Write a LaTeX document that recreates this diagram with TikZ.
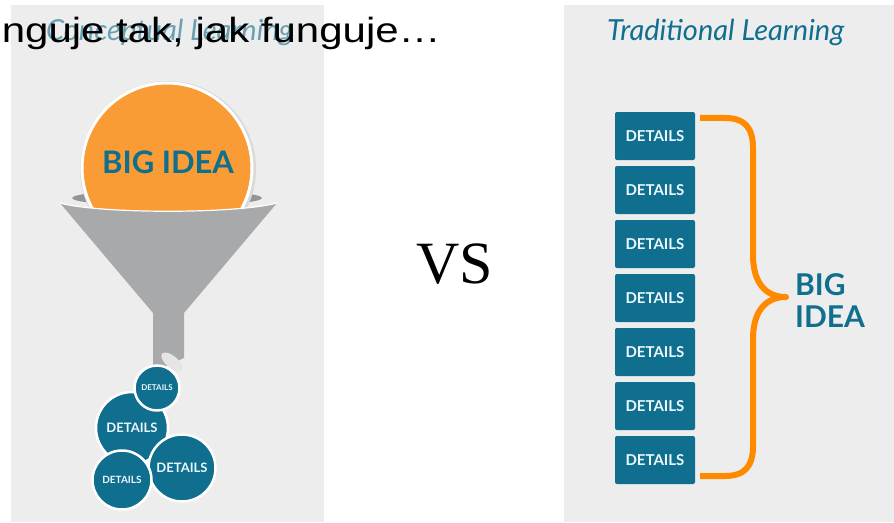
\documentclass[tikz,border=0pt]{standalone}
\usepackage{fontspec}
\setmainfont{Liberation Sans}
\newfontfamily\lato{Lato}
\newfontfamily\vsfont{Liberation Serif}
\definecolor{panel}{HTML}{EDEDED}
\definecolor{deepteal}{HTML}{106F8E}
\definecolor{bigorange}{HTML}{F99C35}
\definecolor{braceorange}{HTML}{FF8A00}
\definecolor{funnelgray}{HTML}{A8A9AB}
\definecolor{rimgray}{HTML}{939496}

\begin{document}
\begin{tikzpicture}[x=1pt, y=-1pt,
    title/.style ={anchor=base west, inner sep=0, text=deepteal, font=\lato\itshape\fontsize{29}{29}\selectfont},
    detail/.style ={rectangle, fill=deepteal, rounded corners=2pt, minimum width=80pt, minimum height=48pt, inner sep=0,
      text=white!92!cyan, font=\lato\bfseries\fontsize{15}{15}\selectfont},
    blob/.style ={circle, fill=deepteal, draw=white, line width=2.5pt, inner sep=0, text=white!92!cyan},
    brace/.style ={draw=braceorange, line width=6pt, line cap=butt, line join=round}]
   \useasboundingbox (0,0) rectangle (894,522);
   \fill[white] (0,0) rectangle (894,522);
   \fill[panel] (11,5) rectangle (324,522);
   \fill[panel] (564,5) rectangle (894,522);

   % titles
   \node[title, text=deepteal!60!panel] (CL) at (46,40) {Conceptual Learning};
   \node[title] (TL) at (607,40) {Traditional Learning};
   \node[anchor=base east, inner sep=0, font=\fontsize{35}{35}\selectfont] (NT) at (441,42)
     {\scalebox{1.2}[1]{nguje tak, jak funguje…}};

   % funnel
   \fill[rimgray] (167,198) ellipse (95pt and 8pt);
   \fill[gray!30] (168,169) circle (88pt);
   \fill[bigorange, draw=white, line width=3pt] (167,168) circle (85pt);
   \fill[funnelgray] (60,203) .. controls (100,214) and (236,214) .. (277,203)
     -- (184,313) -- (184,358) -- (153,372) -- (153,313) -- cycle;
   \draw[white, line width=1.2pt] (60,203) .. controls (100,214) and (236,214) .. (277,203);
   \fill[gray!20, rotate around={-40:(172,362)}] (172,362) ellipse (13pt and 6pt);
   \node[inner sep=0, text=deepteal, font=\lato\bfseries\fontsize{31}{31}\selectfont] (BIG) at (168,162) {BIG IDEA};

   % details below the funnel
   \node[blob, minimum size=72pt, font=\lato\bfseries\fontsize{13}{13}\selectfont] (C1) at (132,428) {DETAILS};
   \node[blob, minimum size=67pt, font=\lato\bfseries\fontsize{13}{13}\selectfont] (C2) at (182,468) {DETAILS};
   \node[blob, minimum size=59pt, font=\lato\bfseries\fontsize{10}{10}\selectfont] (C3) at (122,480) {DETAILS};
   \node[blob, minimum size=45pt, font=\lato\bfseries\fontsize{8}{8}\selectfont] (C4) at (157,388) {DETAILS};

   \node[inner sep=0, font=\vsfont\fontsize{60}{60}\selectfont] (VS) at (455,264) {VS};

   % traditional side
   \node[detail] (T1) at (655,136) {DETAILS};
   \node[detail] (T2) at (655,190) {DETAILS};
   \node[detail] (T3) at (655,244) {DETAILS};
   \node[detail] (T4) at (655,298) {DETAILS};
   \node[detail] (T5) at (655,352) {DETAILS};
   \node[detail] (T6) at (655,406) {DETAILS};
   \node[detail] (T7) at (655,460) {DETAILS};

   \coordinate (tip) at (786,297);
   \draw[brace] ([xshift=5pt,yshift=-6pt]T1.north east) -- (725,118)
     .. controls (745,118) and (753,128) .. (753,148) -- (753,255)
     .. controls (753,282) and (765,297) .. (tip)
     .. controls (765,297) and (753,312) .. (753,339) -- (753,446)
     .. controls (753,466) and (745,476) .. (725,476) -- ([xshift=5pt,yshift=8pt]T7.south east);

   \node[anchor=north west, inner sep=0, align=left, text=deepteal,
     font=\lato\bfseries\fontsize{30}{32}\selectfont] (BI) at (795,273) {BIG\\IDEA};

 \end{tikzpicture}
\end{document}
